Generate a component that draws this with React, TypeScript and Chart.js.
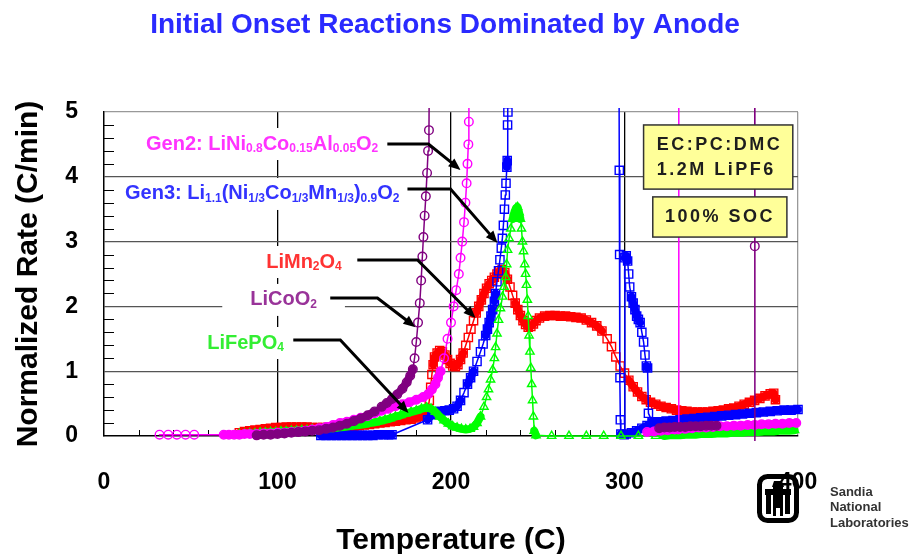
import { useEffect, useRef } from 'react';
import { Chart, registerables } from 'chart.js';

Chart.register(...registerables);

const FONT = "'Liberation Sans', Arial, Helvetica, sans-serif";

// ---------- text ----------
const TITLE = 'Initial Onset Reactions Dominated by Anode';
const X_TITLE = 'Temperature (C)';
const Y_TITLE = 'Normalized Rate (C/min)';
const INFO_LINES = ['EC:PC:DMC', '1.2M LiPF6'];
const SOC_LABEL = '100% SOC';
const LOGO_LINES = ['Sandia', 'National', 'Laboratories'];

// ---------- axes ----------
const X_MIN = 0;
const X_MAX = 400;
const X_STEP = 100;
const X_MINOR = 20;
const Y_MIN = 0;
const Y_MAX = 5;
const Y_STEP = 1;
const Y_MINOR = 0.2;
const OFF = 9; // runaway value beyond the top of the axis

// ---------- series (temperature C, normalized rate C/min) ----------
const licoo2Temp = [
  88, 92, 96, 100, 104, 108, 112, 116, 120, 124,
  128, 132, 136, 140, 144, 148, 152, 156, 160, 163,
  166, 169, 172, 174.5, 176.5, 178, 179, 180, 181, 182,
  182.8, 183.5, 184.1, 184.8, 185.5, 186.2, 186.8, 187.3, 188.3, null,
  320, 323, 326, 329, 332, 335, 338, 341, 344, 347,
  350, 353, null, 375, 375.1, 375.2,
];
const licoo2Rate = [
  0.01, 0.02, 0.02, 0.03, 0.04, 0.05, 0.06, 0.07, 0.08, 0.09,
  0.11, 0.13, 0.16, 0.19, 0.23, 0.27, 0.32, 0.38, 0.45, 0.51,
  0.57, 0.64, 0.73, 0.83, 0.93, 1.03, 1.2, 1.45, 1.75, 2.05,
  2.4, 2.77, 3.07, 3.4, 3.7, 4.06, 4.4, 4.72, OFF, null,
  0.12, 0.13, 0.13, 0.14, 0.14, 0.14, 0.15, 0.15, 0.15, 0.16,
  0.16, 0.16, null, OFF, 2.93, -0.3,
];

const gen2Temp = [
  32, 37, 42, 47, 52, 69, 72, 75, 78, 81,
  84, 88, 92, 96, 100, 104, 108, 112, 116, 120,
  124, 128, 132, 136, 140, 144, 148, 152, 156, 160,
  164, 168, 172, 176, 180, 184, 187, 189, 191, 192.5,
  194, 196, 198, 200, 201.5, 203, 204.5, 205.5, 206.5, 207.5,
  208.3, 209, 209.5, 210, 210.3, 210.9, null, 313, 317, 321,
  325, 329, 331, 331.2, 331.4, 335, 339, 343, 347, 351,
  355, 359, 363, 367, 371, 375, 379, 383, 387, 391,
  395, 399,
];
const gen2Rate = [
  0.02, 0.02, 0.02, 0.02, 0.02, 0.02, 0.02, 0.02, 0.02, 0.03,
  0.03, 0.03, 0.04, 0.04, 0.05, 0.05, 0.06, 0.07, 0.08, 0.1,
  0.12, 0.14, 0.17, 0.2, 0.22, 0.25, 0.28, 0.31, 0.35, 0.39,
  0.42, 0.46, 0.49, 0.52, 0.56, 0.6, 0.65, 0.72, 0.8, 0.9,
  1.0, 1.2, 1.5, 1.75, 2.0, 2.25, 2.5, 2.75, 3.0, 3.3,
  3.6, 3.9, 4.2, 4.5, 4.85, OFF, null, 0.06, 0.07, 0.08,
  0.09, 0.1, 0.1, OFF, 0.11, 0.11, 0.12, 0.13, 0.13, 0.14,
  0.15, 0.15, 0.16, 0.16, 0.17, 0.17, 0.18, 0.18, 0.19, 0.19,
  0.2, 0.2,
];

const lifepo4Temp = [
  78, 81, 84, 87, 90, 93, 96, 99, 102, 105,
  108, 111, 114, 117, 120, 123, 126, 129, 132, 135,
  138, 141, 144, 147, 150, 153, 156, 159, 162, 165,
  168, 171, 174, 177, 180, 183, 186, 188.5, 191, 193.5,
  196, 198.5, 201, 203.5, 206, 208.5, 211, 213, 215, 217,
  219, 220.5, 221.6, 222.8, 224, 225, 225.7, 226.5, 227.4, 228.5,
  229.7, 230.6, 231.5, 232.1, 232.6, 233.5, 234.5, 235.5, 236.5, 237.5,
  238.4, 239.2, 240, 240.6, 241.2, 241.8, 242.5, 243, 243.5, 244,
  244.5, 245, 245.5, 246, 246.5, 247, 247.5, 248, 249, 258,
  268, 278, 288, 298, 308, 318, 323, 326, 329, 332,
  335, 338, 341, 344, 347, 350, 353, 356, 359, 362,
  365, 368, 371, 374, 377, 380, 383, 386, 389, 392,
  395, 398,
];
const lifepo4Rate = [
  0.03, 0.03, 0.04, 0.04, 0.05, 0.05, 0.06, 0.06, 0.07, 0.07,
  0.08, 0.08, 0.09, 0.09, 0.1, 0.1, 0.11, 0.12, 0.12, 0.13,
  0.14, 0.15, 0.16, 0.17, 0.18, 0.2, 0.21, 0.23, 0.25, 0.27,
  0.3, 0.32, 0.35, 0.37, 0.39, 0.42, 0.44, 0.42, 0.37, 0.3,
  0.24, 0.19, 0.15, 0.13, 0.11, 0.1, 0.11, 0.14, 0.2, 0.3,
  0.45, 0.6, 0.72, 0.87, 1.02, 1.2, 1.37, 1.58, 1.79, 1.97,
  2.15, 2.3, 2.45, 2.65, 2.87, 3.05, 3.2, 3.35, 3.45, 3.52,
  3.53, 3.45, 3.35, 3.2, 3.0, 2.85, 2.65, 2.5, 2.33, 2.1,
  1.85, 1.55, 1.3, 1.05, 0.8, 0.55, 0.3, 0.08, 0.01, 0,
  0, 0, 0, 0, 0, 0, 0, 0.01, 0.01, 0.01,
  0.02, 0.02, 0.02, 0.03, 0.03, 0.03, 0.04, 0.04, 0.04, 0.05,
  0.05, 0.05, 0.06, 0.06, 0.06, 0.07, 0.07, 0.07, 0.08, 0.08,
  0.08, 0.09,
];

const gen3Temp = [
  125, 128, 131, 134, 137, 140, 143, 146, 149, 152,
  155, 158, 161, 164, 166, 186.5, 189, 191.5, 194, 196.5,
  199, 201.5, 203.5, 205.5, 207.5, 209.5, 211.3, 213, 215, 217,
  218.5, 220, 221, 222, 223, 224, 225, 225.7, 226.5, 227.4,
  228.2, 229, 229.6, 230.2, 230.8, 231.3, 231.7, 232.2, 232.4, 232.6,
  232.8, 233.3, null, 296.5, 297, 297.2, 297.4, 297.6, 297.9, 299.8,
  300.2, 301, 301.8, 302.4, 303, 304, 305, 306, 307, 308,
  309, 310, 311, 311.8, 312.6, 313.3, 313.8, 316, 320, 324,
  328, 332, 336, 340, 344, 348, 352, 356, 360, 364,
  368, 372, 376, 380, 384, 388, 392, 396, 400, null,
  301, 304, 307, 310, 313, 316,
];
const gen3Rate = [
  0.01, 0.01, 0.01, 0.01, 0.01, 0.01, 0.01, 0.01, 0.01, 0.01,
  0.01, 0.02, 0.02, 0.02, 0.02, 0.25, 0.33, 0.36, 0.38, 0.39,
  0.4, 0.42, 0.46, 0.55, 0.67, 0.8, 0.9, 1.0, 1.15, 1.3,
  1.42, 1.55, 1.65, 1.75, 1.85, 1.95, 2.08, 2.2, 2.38, 2.55,
  2.72, 2.9, 3.05, 3.25, 3.5, 3.72, 3.9, 4.15, 4.25, 4.8,
  5.0, OFF, null, OFF, 4.1, 2.8, 0.9, 0.25, 0.03, 0.02,
  2.75, 2.78, 2.7, 2.5, 2.3, 2.15, 2.05, 1.95, 1.85, 1.8,
  1.75, 1.6, 1.45, 1.25, 1.08, 1.05, 0.35, 0.22, 0.22, 0.23,
  0.24, 0.25, 0.26, 0.27, 0.28, 0.29, 0.3, 0.31, 0.32, 0.33,
  0.34, 0.35, 0.36, 0.37, 0.38, 0.39, 0.4, 0.4, 0.41, null,
  0.03, 0.05, 0.08, 0.12, 0.16, 0.2,
];

const limn2o4Temp = [
  78, 81, 84, 87, 90, 93, 96, 99, 102, 105,
  108, 111, 114, 117, 120, 123, 126, 129, 132, 135,
  138, 141, 144, 147, 150, 153, 156, 159, 162, 165,
  168, 171, 174, 177, 180, 182.5, 184.5, 186.5, 187.5, 188.3,
  189, 189.7, 190.5, 192, 193.5, 195, 196.5, 198, 199.5, 201,
  202.5, 204, 205.5, 207, 208.5, 210, 211.5, 213, 214.5, 216,
  217.5, 219, 220.5, 222, 223.5, 225, 226.5, 228, 229.5, 231,
  232.5, 234, 235.5, 237, 238.5, 240, 241.5, 243, 244.5, 246,
  247.5, 249, 251, 254, 257, 260, 263, 266, 269, 272,
  275, 278, 281, 284, 287, 290, 292.5, 295, 297.5, 300,
  302.5, 305, 307.5, 310, 312.5, 315, 318, 321, 324, 327,
  330, 333, 336, 339, 342, 345, 348, 351, 354, 357,
  360, 363, 366, 369, 372, 375, 378, 381, 384, 386,
  387,
];
const limn2o4Rate = [
  0.05, 0.07, 0.08, 0.09, 0.1, 0.11, 0.12, 0.13, 0.13, 0.14,
  0.14, 0.14, 0.14, 0.14, 0.13, 0.13, 0.13, 0.13, 0.13, 0.13,
  0.13, 0.14, 0.15, 0.16, 0.17, 0.18, 0.19, 0.2, 0.21, 0.22,
  0.23, 0.24, 0.25, 0.26, 0.28, 0.3, 0.32, 0.38, 0.55, 0.75,
  0.95, 1.1, 1.22, 1.28, 1.32, 1.3, 1.25, 1.18, 1.12, 1.08,
  1.07, 1.1, 1.18, 1.28, 1.4, 1.52, 1.65, 1.78, 1.9, 2.0,
  2.1, 2.2, 2.28, 2.35, 2.4, 2.45, 2.5, 2.55, 2.57, 2.52,
  2.42, 2.3, 2.17, 2.05, 1.95, 1.86, 1.78, 1.72, 1.68, 1.69,
  1.73, 1.78, 1.82, 1.85, 1.86, 1.86, 1.85, 1.85, 1.84, 1.83,
  1.82, 1.79, 1.75, 1.7, 1.62, 1.5, 1.38, 1.22, 1.08, 0.97,
  0.86, 0.76, 0.68, 0.61, 0.56, 0.52, 0.49, 0.46, 0.44, 0.42,
  0.4, 0.39, 0.38, 0.37, 0.37, 0.37, 0.37, 0.38, 0.39, 0.4,
  0.42, 0.43, 0.46, 0.49, 0.52, 0.55, 0.58, 0.62, 0.65, 0.66,
  0.56,
];

// ---------- callouts (label text parts, [temp, rate] anchors) ----------
type Part = [string, boolean];
const gen2Parts: Part[] = [['Gen2: LiNi', false], ['0.8', true], ['Co', false], ['0.15', true], ['Al', false], ['0.05', true], ['O', false], ['2', true]];
const gen3Parts: Part[] = [['Gen3: Li', false], ['1.1', true], ['(Ni', false], ['1/3', true], ['Co', false], ['1/3', true], ['Mn', false], ['1/3', true], [')', false], ['0.9', true], ['O', false], ['2', true]];
const limn2o4Parts: Part[] = [['LiMn', false], ['2', true], ['O', false], ['4', true]];
const licoo2Parts: Part[] = [['LiCoO', false], ['2', true]];
const lifepo4Parts: Part[] = [['LiFePO', false], ['4', true]];

const gen2Text = [24.2, 4.506];
const gen3Text = [12.1, 3.735];
const limn2o4Text = [93.5, 2.685];
const licoo2Text = [84.3, 2.1];
const lifepo4Text = [59.5, 1.435];

const gen2Arrow = [[163.3, 4.506], [187.0, 4.506], [205.5, 4.105]];
const gen3Arrow = [[174.9, 3.81], [199.7, 3.81], [226.8, 2.98]];
const limn2o4Arrow = [[146.0, 2.716], [180.7, 2.716], [214.1, 1.82]];
const licoo2Arrow = [[130.4, 2.13], [157.6, 2.13], [179.5, 1.68]];
const lifepo4Arrow = [[109.1, 1.48], [136.2, 1.48], [175.5, 0.355]];

const infoBox = [311, 4.8, 397, 3.81];
const infoTextAt = [318.6, 4.49, 4.1];
const socBox = [316.3, 3.69, 393.6, 3.07];
const socTextAt = [355, 3.38];

const PURPLE = '#800080';
const MAGENTA = '#ff00ff';
const GREEN = '#00ff00';
const BLUE = '#0000ff';
const RED = '#ff0000';

const callouts = [
  { parts: gen2Parts, color: '#ff33ff', text: gen2Text, arrow: gen2Arrow },
  { parts: gen3Parts, color: '#3333ff', text: gen3Text, arrow: gen3Arrow },
  { parts: limn2o4Parts, color: '#ff3333', text: limn2o4Text, arrow: limn2o4Arrow },
  { parts: licoo2Parts, color: '#993399', text: licoo2Text, arrow: licoo2Arrow },
  { parts: lifepo4Parts, color: '#33ee33', text: lifepo4Text, arrow: lifepo4Arrow },
];

const MAIN_PX = 20;
const SUB_PX = 12;

function toPoints(t: (number | null)[], r: (number | null)[]) {
  return t.map((x, i) => ({ x: x as number, y: r[i] as number }));
}

function richWidth(ctx: CanvasRenderingContext2D, parts: Part[]) {
  let w = 0;
  for (const [t, sub] of parts) {
    ctx.font = `bold ${sub ? SUB_PX : MAIN_PX}px ${FONT}`;
    w += ctx.measureText(t).width;
  }
  return w;
}

function drawRich(ctx: CanvasRenderingContext2D, parts: Part[], x: number, y: number, color: string) {
  ctx.fillStyle = color;
  ctx.textAlign = 'left';
  ctx.textBaseline = 'middle';
  let cx = x;
  for (const [t, sub] of parts) {
    ctx.font = `bold ${sub ? SUB_PX : MAIN_PX}px ${FONT}`;
    ctx.fillText(t, cx, sub ? y + 5 : y);
    cx += ctx.measureText(t).width;
  }
}

function drawLogo(ctx: CanvasRenderingContext2D, x0: number, y0: number) {
  const w = 42;
  const h = 49;
  ctx.save();
  ctx.strokeStyle = '#000';
  ctx.fillStyle = '#000';
  ctx.lineWidth = 5;
  ctx.beginPath();
  ctx.roundRect(x0 + 2.5, y0 + 2.5, w - 5, h - 5, 8);
  ctx.stroke();
  const cx = x0 + w / 2;
  ctx.beginPath();
  ctx.moveTo(cx - 4, y0 + 7);
  ctx.lineTo(cx + 4, y0 + 7);
  ctx.lineTo(cx + 6, y0 + 13);
  ctx.lineTo(cx - 6, y0 + 13);
  ctx.closePath();
  ctx.fill();
  ctx.fillRect(x0 + 8, y0 + 15, w - 16, 6);
  ctx.fillRect(cx - 5, y0 + 12, 10, 22);
  ctx.fillRect(x0 + 9, y0 + 21, 5, 19);
  ctx.fillRect(x0 + w - 14, y0 + 21, 5, 19);
  ctx.fillRect(cx - 5, y0 + 34, 3, 8);
  ctx.fillRect(cx + 2, y0 + 34, 3, 8);
  ctx.restore();
  ctx.save();
  ctx.fillStyle = '#333';
  ctx.font = `bold 13px ${FONT}`;
  ctx.textAlign = 'left';
  ctx.textBaseline = 'middle';
  LOGO_LINES.forEach((s, i) => ctx.fillText(s, x0 + 73, y0 + 18 + i * 15.5));
  ctx.restore();
}

const decorPlugin = {
  id: 'decor',
  beforeDraw(chart: any) {
    const { ctx } = chart;
    ctx.save();
    ctx.fillStyle = '#fff';
    ctx.fillRect(0, 0, chart.width, chart.height);
    ctx.fillStyle = '#2a2aff';
    ctx.font = `bold 28px ${FONT}`;
    ctx.textAlign = 'center';
    ctx.textBaseline = 'middle';
    ctx.fillText(TITLE, 445, 25);
    ctx.restore();
    drawLogo(ctx, 757, 474);
  },
  beforeDatasetsDraw(chart: any) {
    const { ctx, chartArea: a, scales } = chart;
    const xs = scales.x;
    const ys = scales.y;
    ctx.save();
    ctx.strokeStyle = '#000';
    ctx.lineWidth = 1;
    ctx.beginPath();
    for (let v = Y_MIN + Y_MINOR; v < Y_MAX - 1e-6; v += Y_MINOR) {
      if (Math.abs(v - Math.round(v)) < 1e-6) continue;
      const py = Math.round(ys.getPixelForValue(v)) + 0.5;
      ctx.moveTo(a.left, py);
      ctx.lineTo(a.left + 10, py);
    }
    for (let v = X_MINOR; v < X_MAX; v += X_MINOR) {
      if (v % X_STEP === 0) continue;
      const px = Math.round(xs.getPixelForValue(v)) + 0.5;
      ctx.moveTo(px, a.bottom);
      ctx.lineTo(px, a.bottom - 6);
    }
    ctx.stroke();
    ctx.fillStyle = '#fff';
    for (const c of callouts) {
      const tx = xs.getPixelForValue(c.text[0]);
      const ty = ys.getPixelForValue(c.text[1]);
      const w = richWidth(ctx, c.parts);
      const left = Math.max(a.left + 12, tx - 28);
      ctx.fillRect(left, ty - 16, tx + w + 28 - left, 32);
    }
    ctx.restore();
  },
  afterDatasetsDraw(chart: any) {
    const { ctx, scales } = chart;
    const xs = scales.x;
    const ys = scales.y;
    ctx.save();
    for (const c of callouts) {
      const pts = c.arrow.map(([t, v]) => ({ x: xs.getPixelForValue(t), y: ys.getPixelForValue(v) }));
      const n = pts.length;
      const tip = pts[n - 1];
      const prev = pts[n - 2];
      const ang = Math.atan2(tip.y - prev.y, tip.x - prev.x);
      const headLen = 12;
      ctx.strokeStyle = '#000';
      ctx.fillStyle = '#000';
      ctx.lineWidth = 3;
      ctx.lineJoin = 'miter';
      ctx.beginPath();
      ctx.moveTo(pts[0].x, pts[0].y);
      for (let i = 1; i < n - 1; i++) ctx.lineTo(pts[i].x, pts[i].y);
      ctx.lineTo(tip.x - Math.cos(ang) * (headLen - 2), tip.y - Math.sin(ang) * (headLen - 2));
      ctx.stroke();
      ctx.beginPath();
      ctx.moveTo(tip.x, tip.y);
      ctx.lineTo(tip.x - headLen * Math.cos(ang) + 5 * Math.sin(ang), tip.y - headLen * Math.sin(ang) - 5 * Math.cos(ang));
      ctx.lineTo(tip.x - headLen * Math.cos(ang) - 5 * Math.sin(ang), tip.y - headLen * Math.sin(ang) + 5 * Math.cos(ang));
      ctx.closePath();
      ctx.fill();
      drawRich(ctx, c.parts, xs.getPixelForValue(c.text[0]), ys.getPixelForValue(c.text[1]), c.color);
    }
    const drawBox = (b: number[]) => {
      const x1 = xs.getPixelForValue(b[0]);
      const y1 = ys.getPixelForValue(b[1]);
      const x2 = xs.getPixelForValue(b[2]);
      const y2 = ys.getPixelForValue(b[3]);
      ctx.fillStyle = '#ffff99';
      ctx.fillRect(x1, y1, x2 - x1, y2 - y1);
      ctx.strokeStyle = '#333';
      ctx.lineWidth = 1.5;
      ctx.strokeRect(x1, y1, x2 - x1, y2 - y1);
    };
    drawBox(infoBox);
    drawBox(socBox);
    ctx.fillStyle = '#1e1e1e';
    ctx.font = `bold 18px ${FONT}`;
    (ctx as any).letterSpacing = '2.5px';
    ctx.textBaseline = 'middle';
    ctx.textAlign = 'left';
    ctx.fillText(INFO_LINES[0], xs.getPixelForValue(infoTextAt[0]), ys.getPixelForValue(infoTextAt[1]));
    ctx.fillText(INFO_LINES[1], xs.getPixelForValue(infoTextAt[0]), ys.getPixelForValue(infoTextAt[2]));
    ctx.textAlign = 'center';
    ctx.fillText(SOC_LABEL, xs.getPixelForValue(socTextAt[0]), ys.getPixelForValue(socTextAt[1]));
    (ctx as any).letterSpacing = '0px';
    ctx.restore();
  },
};

const DENSE_PX = 8;
const denseWidth = (ctx: any) => {
  const d = Math.hypot(ctx.p1.x - ctx.p0.x, ctx.p1.y - ctx.p0.y);
  return d < DENSE_PX ? 8 : undefined;
};

function series(label: string, t: (number | null)[], r: (number | null)[], color: string, style: string, radius: number) {
  return {
    label,
    data: toPoints(t, r),
    borderColor: color,
    backgroundColor: 'rgba(0,0,0,0)',
    borderWidth: 1.5,
    borderCapStyle: 'round',
    borderJoinStyle: 'round',
    pointStyle: style,
    pointRadius: radius,
    pointBorderWidth: 1.4,
    pointBorderColor: color,
    pointBackgroundColor: 'rgba(255,255,255,0)',
    spanGaps: false,
    tension: 0,
    fill: false,
    clip: { left: 6, right: 6, top: 4, bottom: 5 },
    segment: { borderWidth: denseWidth },
  };
}

export default function App() {
  const ref = useRef<HTMLCanvasElement>(null);
  useEffect(() => {
    if (!ref.current) return;
    const chart = new Chart(ref.current, {
      type: 'line',
      data: {
        datasets: [
          series('LiCoO2', licoo2Temp, licoo2Rate, PURPLE, 'circle', 4.3),
          series('Gen2', gen2Temp, gen2Rate, MAGENTA, 'circle', 4.3),
          series('LiFePO4', lifepo4Temp, lifepo4Rate, GREEN, 'triangle', 4.8),
          series('Gen3', gen3Temp, gen3Rate, BLUE, 'rect', 5.8),
          series('LiMn2O4', limn2o4Temp, limn2o4Rate, RED, 'rect', 5.8),
        ] as any,
      },
      options: {
        animation: false,
        responsive: false,
        events: [],
        layout: { padding: { left: 0, right: 124, top: 112, bottom: 0 } },
        plugins: {
          legend: { display: false },
          tooltip: { enabled: false },
          title: { display: false },
        },
        scales: {
          x: {
            type: 'linear',
            min: X_MIN,
            max: X_MAX,
            ticks: {
              stepSize: X_STEP,
              color: '#000',
              padding: 33,
              font: { family: FONT, size: 23, weight: 'bold' },
            },
            grid: {
              drawTicks: false,
              lineWidth: 1.3,
              color: (c: any) => (c.tick.value === X_MAX ? '#999' : c.tick.value === X_MIN ? 'rgba(0,0,0,0)' : '#000'),
            },
            border: { color: '#000', width: 1.5 },
            title: {
              display: true,
              text: X_TITLE,
              color: '#000',
              font: { family: FONT, size: 30, weight: 'bold', lineHeight: 1 },
              padding: { top: 0, bottom: -2 },
            },
            afterFit: (s: any) => {
              s.height = 118;
            },
          },
          y: {
            type: 'linear',
            min: Y_MIN,
            max: Y_MAX,
            ticks: {
              stepSize: Y_STEP,
              color: '#000',
              padding: 26,
              font: { family: FONT, size: 23, weight: 'bold' },
            },
            grid: {
              drawTicks: false,
              lineWidth: 1.2,
              color: (c: any) => (c.tick.value === Y_MAX ? '#999' : c.tick.value === Y_MIN ? 'rgba(0,0,0,0)' : '#555'),
            },
            border: { color: '#000', width: 1.5 },
            title: {
              display: true,
              text: Y_TITLE,
              color: '#000',
              font: { family: FONT, size: 30, weight: 'bold', lineHeight: 1.2 },
              padding: { top: 11, bottom: 0 },
            },
            afterFit: (s: any) => {
              s.width = 104;
            },
          },
        },
      } as any,
      plugins: [decorPlugin],
    });
    return () => chart.destroy();
  }, []);
  return (
    <div style={{ position: 'absolute', left: 0, top: 0, width: 922, height: 554, background: '#fff' }}>
      <canvas ref={ref} width={922} height={554} style={{ display: 'block' }} />
    </div>
  );
}
